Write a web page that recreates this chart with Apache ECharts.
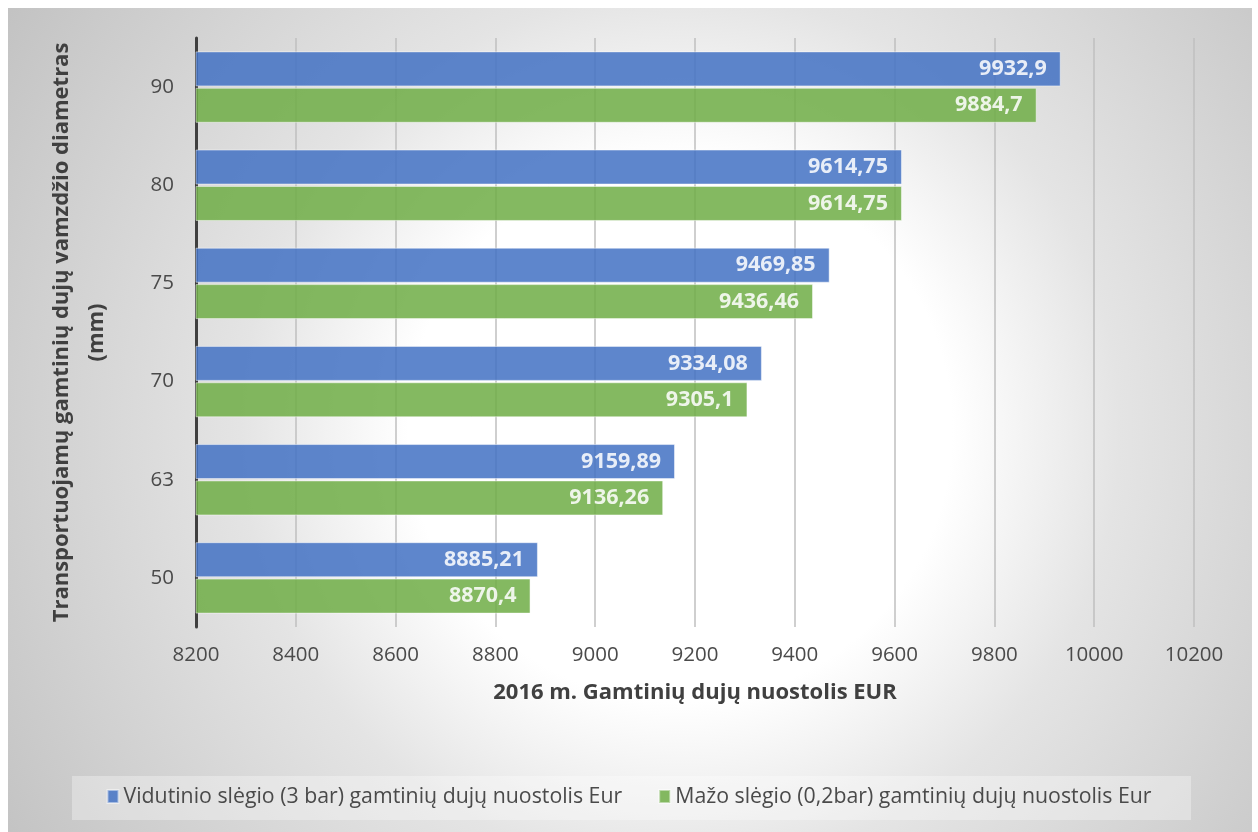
<!DOCTYPE html>
<html>
<head>
<meta charset="utf-8">
<script src="https://cdn.jsdelivr.net/npm/echarts@6/dist/echarts.min.js"></script>
<style>
  html, body { margin: 0; padding: 0; background: #ffffff; }
  #chart { width: 1258px; height: 832px; }
</style>
</head>
<body>
<div id="chart"></div>
<script>
// Pipe diameters (mm), bottom to top
const diameters = ['50', '63', '70', '75', '80', '90'];
// Gas loss in 2016, EUR
const mediumPressure = [8885.21, 9159.89, 9334.08, 9469.85, 9614.75, 9932.9];
const lowPressure = [8870.4, 9136.26, 9305.1, 9436.46, 9614.75, 9884.7];
const seriesNames = [
  'Vidutinio slėgio (3 bar) gamtinių dujų nuostolis Eur',
  'Mažo slėgio (0,2bar) gamtinių dujų nuostolis Eur'
];
const xMin = 8200, xMax = 10200, xStep = 200;

const FONT = '"Open Sans", "Noto Sans", sans-serif';
const fmt = v => String(v).replace('.', ',');

const chart = echarts.init(document.getElementById('chart'), null, { renderer: 'canvas' });

const barLabel = {
  show: true,
  position: 'insideRight',
  distance: 14,
  color: '#ffffff',
  fontFamily: FONT,
  fontWeight: 'bold',
  fontSize: 21.5,
  formatter: p => fmt(p.value)
};

chart.setOption({
  animation: false,
  backgroundColor: '#ffffff',
  textStyle: { fontFamily: FONT },
  graphic: [
    {
      type: 'rect',
      z: -10,
      shape: { x: 8, y: 8, width: 1244, height: 824 },
      style: {
        fill: {
          type: 'radial', x: 680, y: 430, r: 800, global: true,
          colorStops: [
            { offset: 0, color: '#ffffff' },
            { offset: 0.34, color: '#ffffff' },
            { offset: 0.55, color: '#e4e4e4' },
            { offset: 1, color: '#c2c2c2' }
          ]
        }
      }
    },
    {
      type: 'rect',
      z: -9,
      shape: { x: 72, y: 776, width: 1119, height: 44 },
      style: { fill: 'rgba(255,255,255,0.32)' }
    }
  ],
  grid: { left: 196, right: 64, top: 38, bottom: 205, containLabel: false },
  legend: {
    data: seriesNames,
    bottom: 20,
    left: 'center',
    itemWidth: 11,
    itemHeight: 13,
    itemGap: 36,
    icon: 'rect',
    textStyle: { fontFamily: FONT, fontSize: 21.3, color: '#4a4a4a' }
  },
  xAxis: {
    type: 'value',
    min: xMin, max: xMax, interval: xStep,
    name: '2016 m. Gamtinių dujų nuostolis EUR',
    nameLocation: 'middle',
    nameGap: 55,
    nameTextStyle: { fontFamily: FONT, fontSize: 22, fontWeight: 'bold', color: '#404040' },
    axisLine: { show: false },
    axisTick: { show: false },
    axisLabel: { fontFamily: FONT, fontSize: 20.5, color: '#4a4a4a', margin: 18, formatter: v => String(v) },
    splitLine: { show: true, lineStyle: { color: '#bfbfbf', width: 1.5 } }
  },
  yAxis: {
    type: 'category',
    data: diameters,
    name: 'Transportuojamų gamtinių dujų vamzdžio diametras\n(mm)',
    nameLocation: 'middle',
    nameGap: 82,
    nameTextStyle: { fontFamily: FONT, fontSize: 22, fontWeight: 'bold', color: '#404040', lineHeight: 35 },
    axisLine: { show: true, lineStyle: { color: '#404040', width: 3 } },
    axisTick: { show: false },
    axisLabel: { fontFamily: FONT, fontSize: 20.5, color: '#4a4a4a', margin: 22 },
    splitLine: { show: false }
  },
  series: [
    {
      name: seriesNames[0],
      type: 'bar',
      data: mediumPressure,
      barWidth: 35,
      barGap: '4%',
      itemStyle: { color: '#4472C4', opacity: 0.86, borderColor: 'rgba(255,255,255,0.55)', borderWidth: 1 },
      label: barLabel
    },
    {
      name: seriesNames[1],
      type: 'bar',
      data: lowPressure,
      barWidth: 35,
      barGap: '4%',
      itemStyle: { color: '#70AD47', opacity: 0.86, borderColor: 'rgba(255,255,255,0.55)', borderWidth: 1 },
      label: barLabel
    }
  ]
});
</script>
</body>
</html>
